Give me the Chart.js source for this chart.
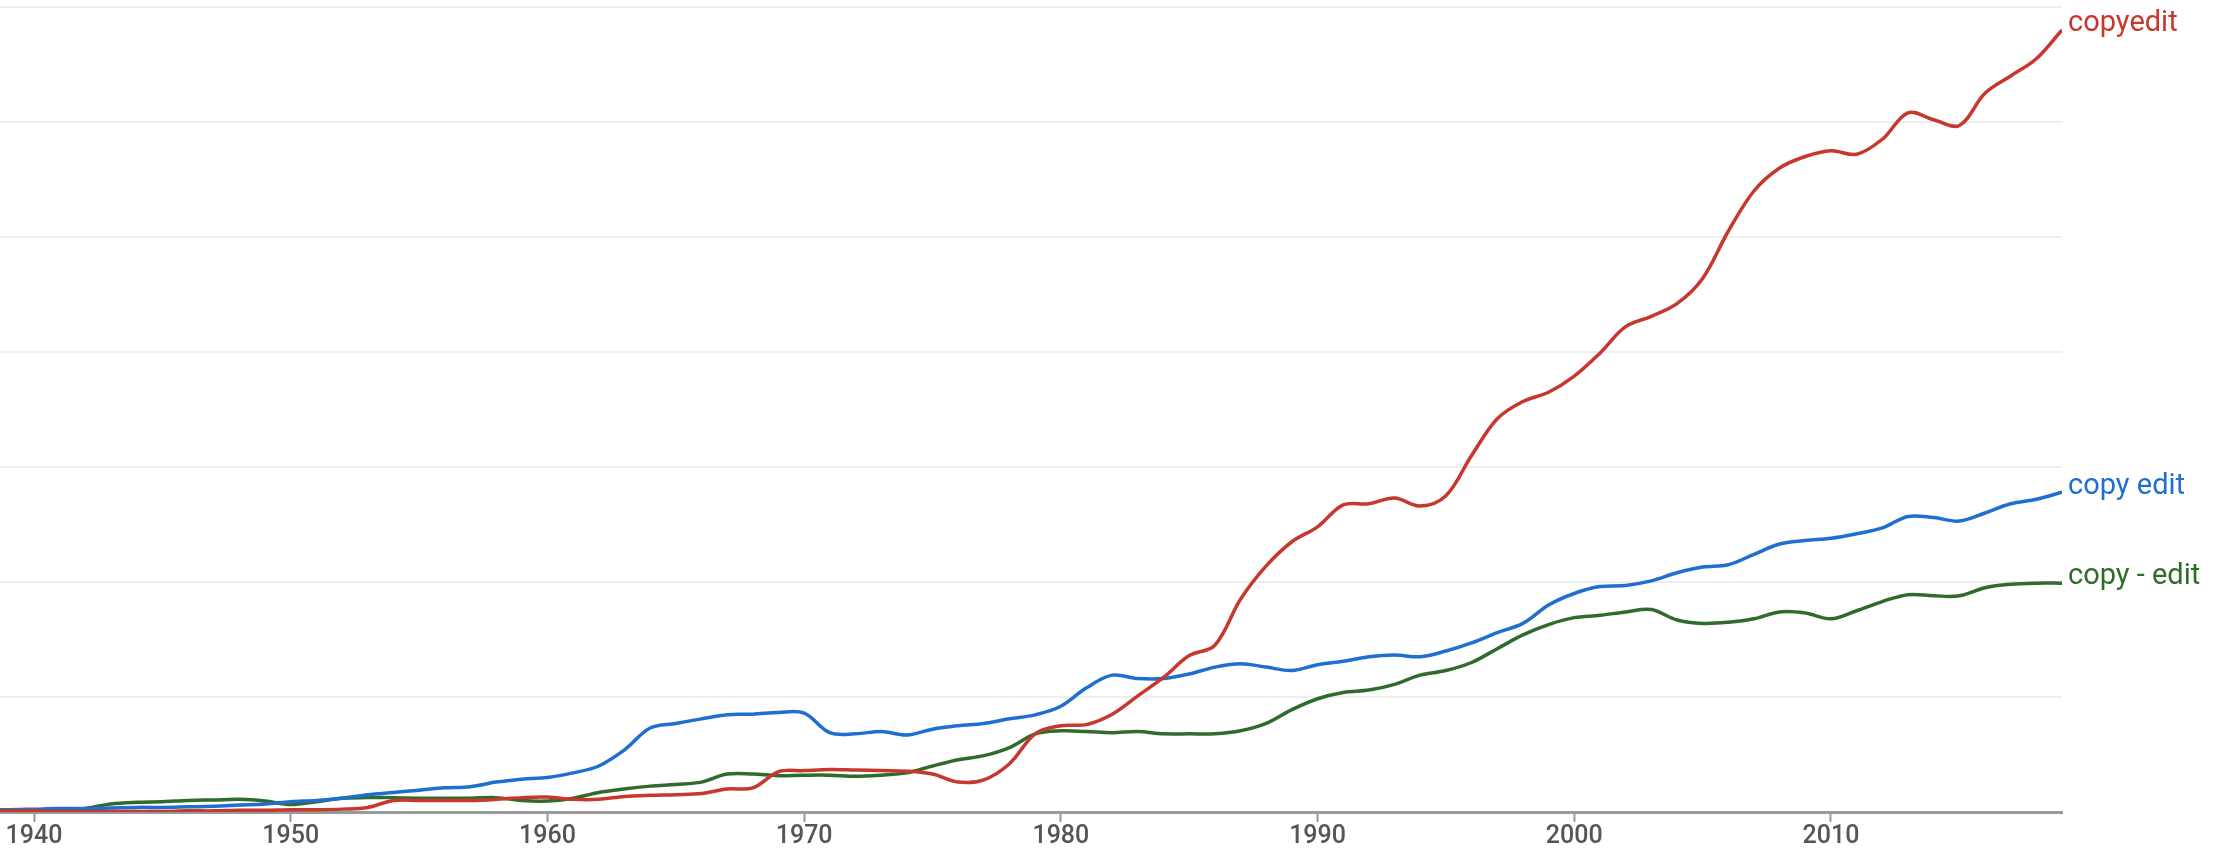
<!DOCTYPE html>
<html>
<head>
<meta charset="utf-8">
<script src="https://cdn.jsdelivr.net/npm/chart.js@4.4.1/dist/chart.umd.min.js"></script>
<style>
  html, body { margin: 0; padding: 0; background: #fff; }
  #wrap { position: relative; width: 2231px; height: 857px; }
</style>
</head>
<body>
<div id="wrap"><canvas id="chart"></canvas></div>
<script>
// years 1938..2019
const years = [];
for (let y = 1938; y <= 2019; y++) years.push(y);

const seriesNames = ['copyedit', 'copy edit', 'copy - edit'];
const seriesColors = ['#c8372d', '#1f6fd0', '#2f6b2a'];

const copyeditValues = [
    0.01, 0.01, 0.01, 0.005, 0.005, 0.005, 0.005, 0.005, 0.01, 0.01,
    0.015, 0.015, 0.02, 0.02, 0.025, 0.04, 0.10, 0.10, 0.10, 0.10,
    0.11, 0.125, 0.13, 0.11, 0.11, 0.135, 0.145, 0.15, 0.16, 0.20,
    0.21, 0.35, 0.36, 0.37, 0.365, 0.36, 0.355, 0.33, 0.26, 0.28,
    0.42, 0.68, 0.75, 0.76, 0.85, 1.01, 1.17, 1.36, 1.45, 1.85,
    2.14, 2.35, 2.48, 2.67, 2.68, 2.73, 2.66, 2.75, 3.10, 3.42,
    3.57, 3.65, 3.79, 3.99, 4.22, 4.31, 4.42, 4.64, 5.05, 5.40,
    5.60, 5.70, 5.75, 5.72, 5.85, 6.08, 6.02, 5.97, 6.25, 6.40,
    6.55, 6.80
];

const copyEditValues = [
    0.02, 0.02, 0.025, 0.03, 0.03, 0.035, 0.04, 0.04, 0.045, 0.05,
    0.06, 0.07, 0.09, 0.10, 0.12, 0.15, 0.17, 0.19, 0.21, 0.22,
    0.26, 0.285, 0.30, 0.34, 0.40, 0.54, 0.73, 0.77, 0.81, 0.846,
    0.85, 0.866, 0.86, 0.69, 0.68, 0.70, 0.67, 0.72, 0.75, 0.77,
    0.81, 0.845, 0.92, 1.08, 1.19, 1.16, 1.16, 1.20, 1.26, 1.29,
    1.26, 1.23, 1.28, 1.31, 1.35, 1.365, 1.35, 1.40, 1.47, 1.56,
    1.64, 1.80, 1.90, 1.96, 1.97, 2.01, 2.08, 2.13, 2.15, 2.24,
    2.33, 2.36, 2.38, 2.42, 2.47, 2.57, 2.56, 2.53, 2.60, 2.68,
    2.72, 2.78
];

const copyDashEditValues = [
    0.015, 0.015, 0.01, 0.01, 0.03, 0.07, 0.085, 0.09, 0.10, 0.105,
    0.11, 0.095, 0.065, 0.09, 0.12, 0.125, 0.125, 0.12, 0.12, 0.12,
    0.125, 0.10, 0.095, 0.12, 0.17, 0.20, 0.225, 0.24, 0.26, 0.33,
    0.33, 0.316, 0.32, 0.32, 0.31, 0.32, 0.34, 0.40, 0.455, 0.49,
    0.56, 0.68, 0.706, 0.70, 0.69, 0.70, 0.68, 0.68, 0.68, 0.706,
    0.77, 0.89, 0.985, 1.04, 1.06, 1.11, 1.19, 1.23, 1.30, 1.42,
    1.54, 1.63, 1.69, 1.71, 1.74, 1.76, 1.67, 1.64, 1.65, 1.68,
    1.74, 1.73, 1.68, 1.75, 1.83, 1.89, 1.88, 1.88, 1.95, 1.98,
    1.99, 1.99
];

const xTicks = [1940, 1950, 1960, 1970, 1980, 1990, 2000, 2010];
const yGrid = [0, 1, 2, 3, 4, 5, 6, 7];

const seriesValues = [copyeditValues, copyEditValues, copyDashEditValues];

// text label at the end of each line
const endLabels = {
    id: 'endLabels',
    afterDatasetsDraw(chart) {
        const ctx = chart.ctx;
        ctx.save();
        ctx.font = '29px Roboto';
        ctx.textBaseline = 'middle';
        ctx.textAlign = 'left';
        chart.data.datasets.forEach((ds, i) => {
            const meta = chart.getDatasetMeta(i);
            const last = meta.data[meta.data.length - 1];
            ctx.fillStyle = ds.borderColor;
            ctx.fillText(ds.label, last.x + 6, last.y - 6);
        });
        ctx.restore();
    }
};

new Chart(document.getElementById('chart'), {
    type: 'line',
    data: {
        datasets: seriesNames.map((name, i) => ({
            label: name,
            data: years.map((yr, j) => ({ x: yr, y: seriesValues[i][j] })),
            borderColor: seriesColors[i],
            borderWidth: 3.5,
            pointRadius: 0,
            fill: false,
            tension: 0.35
        }))
    },
    options: {
        responsive: true,
        maintainAspectRatio: false,
        animation: false,
        layout: { padding: { top: 7, right: 169, bottom: 5, left: 0 } },
        plugins: {
            legend: { display: false },
            tooltip: { enabled: false }
        },
        scales: {
            x: {
                type: 'linear',
                min: 1938.675,
                max: 2019,
                afterBuildTicks: (scale) => { scale.ticks = xTicks.map(v => ({ value: v })); },
                grid: {
                    drawOnChartArea: false,
                    drawTicks: true,
                    tickLength: 10,
                    tickColor: '#999',
                    tickWidth: 2
                },
                border: { display: true, color: '#999', width: 3 },
                ticks: {
                    color: '#555',
                    font: { family: 'Roboto', size: 25, weight: '500' },
                    padding: 0,
                    maxRotation: 0,
                    autoSkip: false,
                    callback: (v) => String(v)
                }
            },
            y: {
                min: 0,
                max: 7,
                afterBuildTicks: (scale) => { scale.ticks = yGrid.map(v => ({ value: v })); },
                grid: { color: '#eeeeee', lineWidth: 2, drawTicks: false },
                border: { display: false },
                ticks: { display: false }
            }
        }
    },
    plugins: [endLabels]
});
</script>
</body>
</html>
